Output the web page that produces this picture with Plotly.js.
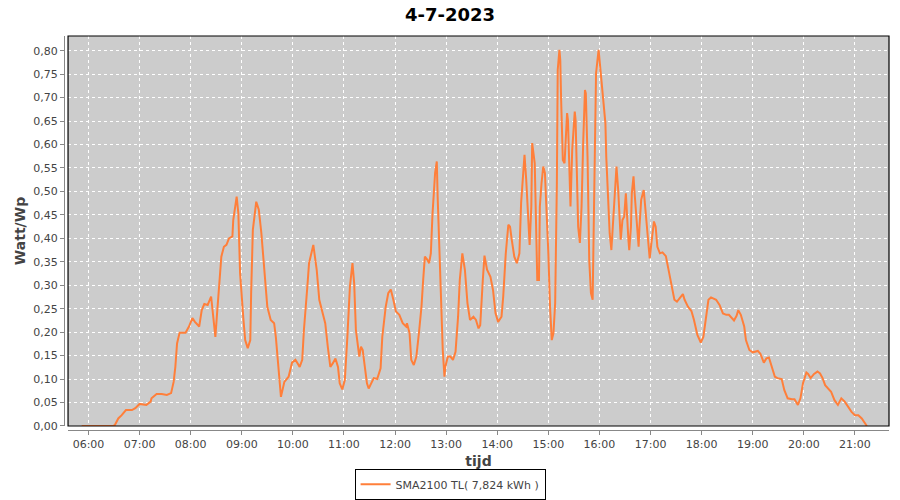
<!DOCTYPE html>
<html>
<head>
<meta charset="utf-8">
<script src="https://cdn.plot.ly/plotly-3.0.1.min.js"></script>
<style>html,body{margin:0;padding:0;background:#fff}#chart{width:900px;height:500px}</style>
</head>
<body>
<div id="chart"></div>
<script>
const day = "2023-07-04";
const chartTitle = "4-7-2023";
const seriesName = "SMA2100 TL( 7,824 kWh )";
const xTitle = "tijd";
const yTitle = "Watt/Wp";

const times = [
"05:52","06:29","06:31","06:35","06:39","06:44","06:51","06:55","07:00","07:08","07:13","07:14","07:20","07:26","07:32","07:37","07:40","07:42","07:44","07:47","07:54","07:58",
"08:02","08:05","08:10","08:13","08:16","08:20","08:24","08:27","08:29","08:31","08:33","08:36","08:39","08:42","08:45","08:49","08:50","08:54","08:56","08:58",
"09:02","09:04","09:07","09:10","09:11","09:13","09:17","09:20","09:23","09:26","09:30","09:34","09:38","09:40","09:43","09:46","09:47","09:50","09:55","09:59",
"10:03","10:08","10:11","10:13","10:17","10:19","10:24","10:28","10:31","10:34","10:38","10:41","10:44","10:47","10:50","10:53","10:55","10:58",
"11:01","11:04","11:07","11:10","11:12","11:14","11:17","11:18","11:20","11:22","11:25","11:27","11:29","11:32","11:35","11:39","11:43","11:45","11:49","11:52","11:55","11:58",
"12:01","12:05","12:09","12:13","12:14","12:17","12:19","12:22","12:25","12:28","12:31","12:33","12:35","12:38","12:40","12:42","12:44","12:47","12:49","12:50","12:53","12:56","12:58","12:59",
"13:02","13:05","13:08","13:11","13:14","13:16","13:19","13:22","13:25","13:28","13:32","13:35","13:38","13:40","13:43","13:45","13:48","13:52","13:55","13:58",
"14:01","14:05","14:07","14:10","14:13","14:15","14:17","14:20","14:23","14:26","14:28","14:30","14:32","14:34","14:36","14:38","14:40","14:41","14:44","14:46","14:47","14:49","14:50","14:52","14:54","14:56","14:58",
"15:00","15:02","15:04","15:06","15:08","15:10","15:11","15:13","15:14","15:15","15:17","15:19","15:20","15:22","15:23","15:24","15:25","15:26","15:28","15:31","15:32","15:34","15:35","15:37","15:39","15:41","15:43","15:44","15:46","15:48","15:50","15:52","15:53","15:55","15:56","15:59",
"16:01","16:03","16:05","16:07","16:08","16:10","16:12","16:14","16:16","16:18","16:20","16:22","16:24","16:25","16:27","16:29","16:31","16:32","16:34","16:35","16:37","16:38","16:40","16:41","16:44","16:46","16:47","16:49","16:52","16:53","16:55","16:57","16:59",
"17:01","17:04","17:06","17:08","17:11","17:14","17:18","17:20","17:25","17:28","17:31","17:35","17:38","17:40","17:44","17:48","17:51","17:55","17:59",
"18:02","18:05","18:08","18:11","18:17","18:21","18:25","18:29","18:32","18:38","18:41","18:43","18:46","18:50","18:52","18:56",
"19:00","19:06","19:09","19:13","19:16","19:19","19:22","19:26","19:29","19:34","19:37","19:41","19:46","19:49","19:53","19:56","19:59",
"20:03","20:05","20:08","20:12","20:16","20:19","20:22","20:25","20:28","20:32","20:36","20:40","20:42","20:44","20:48","20:52","20:56",
"21:00","21:04","21:08","21:12","21:14"
];

const wattPerWp = [
0.000,0.000,0.002,0.016,0.023,0.034,0.034,0.038,0.047,0.045,0.052,0.059,0.068,0.068,0.066,0.070,0.094,0.126,0.176,0.199,0.199,0.212,
0.230,0.222,0.212,0.247,0.260,0.258,0.276,0.226,0.190,0.240,0.290,0.361,0.382,0.386,0.400,0.404,0.439,0.489,0.453,0.326,
0.226,0.183,0.166,0.183,0.283,0.418,0.478,0.461,0.411,0.340,0.254,0.226,0.219,0.190,0.126,0.062,0.070,0.094,0.105,0.135,
0.141,0.126,0.141,0.205,0.297,0.347,0.386,0.333,0.269,0.247,0.219,0.169,0.126,0.134,0.144,0.126,0.091,0.078,
0.098,0.190,0.297,0.347,0.304,0.205,0.155,0.148,0.169,0.162,0.119,0.091,0.080,0.091,0.102,0.100,0.123,0.190,0.254,0.283,0.291,0.269,
0.244,0.237,0.219,0.212,0.219,0.198,0.141,0.130,0.148,0.198,0.254,0.311,0.361,0.354,0.347,0.368,0.453,0.539,0.564,0.489,0.311,0.162,0.105,0.126,
0.148,0.148,0.141,0.158,0.233,0.311,0.368,0.333,0.262,0.226,0.233,0.226,0.208,0.215,0.310,0.363,0.333,0.318,0.290,0.240,
0.222,0.233,0.276,0.368,0.429,0.425,0.397,0.361,0.347,0.368,0.475,0.525,0.578,0.525,0.439,0.386,0.468,0.603,0.560,0.397,0.311,0.311,0.468,0.518,0.553,0.539,0.468,
0.368,0.254,0.183,0.198,0.262,0.518,0.759,0.802,0.780,0.695,0.567,0.560,0.610,0.667,0.652,0.567,0.503,0.468,0.588,0.670,0.652,0.525,0.425,0.390,0.468,0.610,0.716,0.709,0.574,0.354,0.283,0.269,0.397,0.574,0.752,0.802,
0.766,0.716,0.688,0.645,0.574,0.496,0.411,0.375,0.432,0.503,0.553,0.503,0.425,0.397,0.439,0.446,0.496,0.453,0.397,0.375,0.425,0.496,0.532,0.503,0.439,0.382,0.425,0.482,0.503,0.482,0.439,0.382,0.357,
0.390,0.436,0.425,0.382,0.368,0.370,0.362,0.343,0.297,0.269,0.265,0.274,0.281,0.269,0.254,0.245,0.226,0.194,0.178,
0.190,0.233,0.269,0.274,0.269,0.258,0.240,0.237,0.237,0.225,0.235,0.247,0.237,0.212,0.183,0.162,
0.157,0.160,0.154,0.135,0.144,0.146,0.126,0.105,0.102,0.100,0.077,0.059,0.057,0.057,0.045,0.059,0.091,
0.114,0.111,0.102,0.111,0.116,0.112,0.102,0.087,0.080,0.073,0.055,0.045,0.052,0.059,0.052,0.040,0.030,
0.023,0.023,0.016,0.006,0.000
];

const xStart = "05:36";
const xEnd = "21:40";
const firstTick = "06:00";
const yMax = 0.8313;

const font = "DejaVu Sans, Verdana, sans-serif";
const trace = {
  x: times.map(t => day + " " + t),
  y: wattPerWp,
  type: "scatter",
  mode: "lines",
  name: seriesName,
  line: {color: "#ff7f3a", width: 2},
  hoverinfo: "x+y"
};

const layout = {
  width: 900, height: 500,
  paper_bgcolor: "#ffffff",
  plot_bgcolor: "#cccccc",
  separators: ",.",
  margin: {l: 64, r: 11, t: 36, b: 70, autoexpand: false},
  title: {text: "<b>" + chartTitle + "</b>", x: 0.5, xanchor: "center", y: 0.97, yanchor: "middle",
          font: {family: font, size: 18, color: "#000"}},
  font: {family: font, size: 11, color: "#444"},
  xaxis: {
    type: "date",
    automargin: false,
    domain: [0.0049, 1],
    anchor: "free", position: 0,
    range: [day + " " + xStart, day + " " + xEnd],
    tick0: day + " " + firstTick,
    dtick: 3600000,
    tickformat: "%H:%M",
    showgrid: true, gridcolor: "#ffffff", griddash: "3px,3px", gridwidth: 1,
    showline: true, linecolor: "#888888", linewidth: 1,
    ticks: "outside", ticklen: 4, tickcolor: "#888888",
    tickfont: {family: font, size: 11, color: "#444"},
    zeroline: false,
    title: {text: "<b>" + xTitle + "</b>", font: {family: font, size: 14, color: "#444"}, standoff: 5}
  },
  yaxis: {
    automargin: false,
    domain: [0.0102, 1],
    anchor: "free", position: 0,
    range: [0, yMax],
    tick0: 0, dtick: 0.05,
    tickformat: ".2f",
    showgrid: true, gridcolor: "#ffffff", griddash: "3px,3px", gridwidth: 1,
    showline: true, linecolor: "#888888", linewidth: 1,
    ticks: "outside", ticklen: 4, tickcolor: "#888888",
    tickfont: {family: font, size: 11, color: "#444"},
    zeroline: false,
    title: {text: "<b>" + yTitle + "</b>", font: {family: font, size: 14, color: "#444"}, standoff: 3}
  },
  showlegend: true,
  legend: {
    orientation: "h", x: 0.468, xanchor: "center", y: -0.138, yanchor: "middle",
    bordercolor: "#000", borderwidth: 1, bgcolor: "#fff",
    font: {family: font, size: 11, color: "#444"},
    itemwidth: 30
  },
  shapes: [{
    type: "rect", xref: "x domain", yref: "y domain",
    x0: 0, x1: 1, y0: 0, y1: 1,
    line: {color: "#000", width: 1.2}, fillcolor: "rgba(0,0,0,0)", layer: "above"
  }]
};

Plotly.newPlot("chart", [trace], layout, {displayModeBar: false, staticPlot: true});
</script>
</body>
</html>
